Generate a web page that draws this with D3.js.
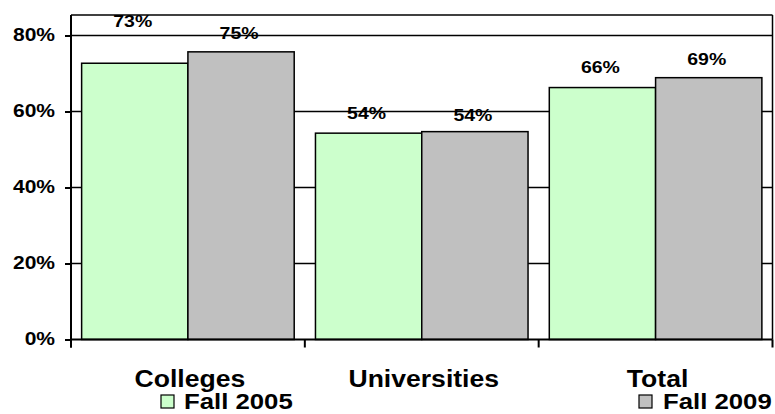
<!DOCTYPE html>
<html>
<head>
<meta charset="utf-8">
<script src="https://cdn.jsdelivr.net/npm/d3@7"></script>
<style>
  html, body { margin: 0; padding: 0; background: #fff; }
  svg { display: block; }
  text { font-family: "Liberation Sans", Arial, sans-serif; font-weight: bold; fill: #000; }
</style>
</head>
<body>
<svg id="chart" width="775" height="414"></svg>
<script>
// ---- data ----
const categories = ["Colleges", "Universities", "Total"];
const series = ["Fall 2005", "Fall 2009"];
const fall2005 = [0.727, 0.543, 0.663];
const fall2009 = [0.757, 0.547, 0.689];
const labels2005 = ["73%", "54%", "66%"];
const labels2009 = ["75%", "54%", "69%"];
const yTicks = [0, 0.2, 0.4, 0.6, 0.8];

// ---- layout ----
const W = 775, H = 414;
const plot = { left: 71, right: 772.5, top: 15, bottom: 339.5 };
const colors = { "Fall 2005": "#CCFFCC", "Fall 2009": "#C0C0C0" };
const STRETCH = 1.13;
const labelLift = [[36, 13], [14, 11], [15, 13]]; // per category, per series (baseline above bar top)

const svg = d3.select("#chart");

const y = d3.scaleLinear().domain([0, 0.8]).range([plot.bottom, 35.5]);
const x0 = d3.scaleBand().domain(categories).range([plot.left, plot.right]).padding(0);
const x1 = d3.scaleBand().domain(series).range([0, x0.bandwidth()]).paddingInner(0).paddingOuter(0.1);

function stretch(sel, k) {
  sel.each(function () {
    const l = this.getComputedTextLength();
    this.setAttribute("textLength", l * k);
    this.setAttribute("lengthAdjust", "spacingAndGlyphs");
  });
}

// gridlines
svg.append("g").selectAll("line").data(yTicks.filter(d => d > 0)).join("line")
  .attr("x1", plot.left).attr("x2", plot.right)
  .attr("y1", d => y(d)).attr("y2", d => y(d))
  .attr("stroke", "#000").attr("stroke-width", 1.5);

// frame top & right
svg.append("line").attr("x1", plot.left).attr("x2", plot.right).attr("y1", plot.top).attr("y2", plot.top)
  .attr("stroke", "#000").attr("stroke-width", 1.5);
svg.append("line").attr("x1", plot.right).attr("x2", plot.right).attr("y1", plot.top).attr("y2", plot.bottom)
  .attr("stroke", "#000").attr("stroke-width", 1.5);

// bars
const rows = categories.map((c, i) => ({
  cat: c, i,
  vals: [
    { s: series[0], v: fall2005[i], label: labels2005[i], lift: labelLift[i][0] },
    { s: series[1], v: fall2009[i], label: labels2009[i], lift: labelLift[i][1] }
  ]
}));

const groups = svg.append("g").selectAll("g").data(rows).join("g")
  .attr("transform", d => `translate(${x0(d.cat)},0)`);

groups.selectAll("rect").data(d => d.vals).join("rect")
  .attr("x", d => x1(d.s))
  .attr("width", x1.bandwidth())
  .attr("y", d => y(d.v))
  .attr("height", d => y(0) - y(d.v))
  .attr("fill", d => colors[d.s])
  .attr("stroke", "#000").attr("stroke-width", 1.5);

// data labels
groups.selectAll("text.lbl").data(d => d.vals).join("text")
  .attr("class", "lbl")
  .attr("x", d => x1(d.s) + x1.bandwidth() / 2 - 2)
  .attr("y", d => y(d.v) - d.lift)
  .attr("text-anchor", "middle")
  .attr("font-size", 16.5)
  .text(d => d.label)
  .call(stretch, 1.18);

// y axis
const yAxis = svg.append("g").attr("transform", `translate(${plot.left},0)`)
  .call(d3.axisLeft(y).tickValues(yTicks).tickFormat(d3.format(".0%")).tickSize(6).tickPadding(10));
yAxis.select(".domain").remove();
yAxis.selectAll(".tick line").attr("stroke", "#000").attr("stroke-width", 2);
yAxis.selectAll(".tick text")
  .attr("font-size", 18.6).attr("font-family", null).attr("dy", "0.28em")
  .call(stretch, STRETCH);
svg.append("line").attr("x1", plot.left).attr("x2", plot.left).attr("y1", plot.top).attr("y2", plot.bottom + 8)
  .attr("stroke", "#000").attr("stroke-width", 2);

// x axis
svg.append("line").attr("x1", plot.left).attr("x2", plot.right).attr("y1", plot.bottom).attr("y2", plot.bottom)
  .attr("stroke", "#000").attr("stroke-width", 2);
const edges = categories.map(c => x0(c)).concat([x0(categories[categories.length - 1]) + x0.bandwidth()]);
svg.append("g").selectAll("line").data(edges).join("line")
  .attr("x1", d => d).attr("x2", d => d)
  .attr("y1", plot.bottom).attr("y2", plot.bottom + 8)
  .attr("stroke", "#000").attr("stroke-width", 2);

svg.append("g").selectAll("text").data(categories).join("text")
  .attr("x", d => x0(d) + x0.bandwidth() / 2 + 2)
  .attr("y", 386.5)
  .attr("text-anchor", "middle")
  .attr("font-size", 23.5)
  .text(d => d)
  .call(stretch, STRETCH);

// legend
const legendItems = [
  { s: series[0], boxX: 161, textX: 184 },
  { s: series[1], boxX: 639, textX: 663 }
];
const lg = svg.append("g").selectAll("g").data(legendItems).join("g");
lg.append("rect")
  .attr("x", d => d.boxX).attr("y", 395).attr("width", 13).attr("height", 13)
  .attr("fill", d => colors[d.s]).attr("stroke", "#000").attr("stroke-width", 1.2);
lg.append("text")
  .attr("x", d => d.textX).attr("y", 409)
  .attr("font-size", 22)
  .text(d => d.s)
  .call(stretch, 1.17);
</script>
</body>
</html>
